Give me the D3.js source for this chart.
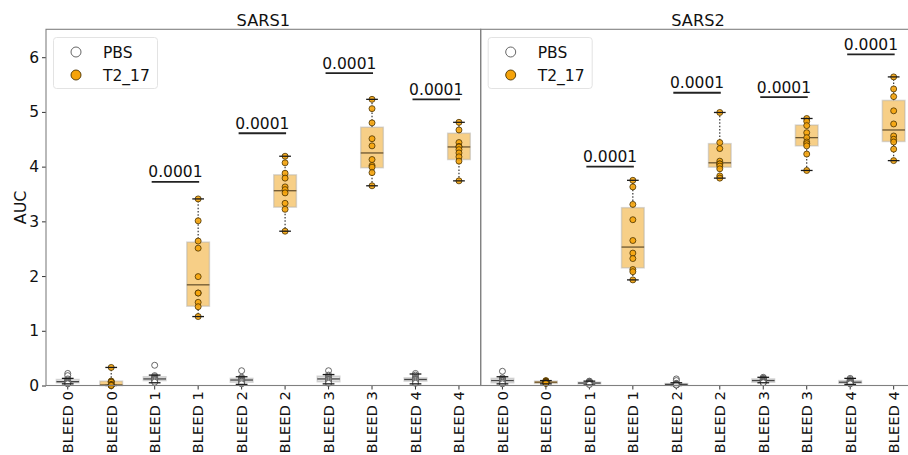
<!DOCTYPE html>
<html>
<head>
<meta charset="utf-8">
<script src="https://cdn.jsdelivr.net/npm/d3@7"></script>
<style>
  html, body { margin: 0; padding: 0; background: #fff; }
  svg { display: block; font-family: "DejaVu Sans", sans-serif; }
</style>
</head>
<body>
<svg id="chart" width="908" height="455"></svg>
<script>
// ---------------- data ----------------
const panels = ["SARS1", "SARS2"];
const bleeds = ["BLEED 0", "BLEED 1", "BLEED 2", "BLEED 3", "BLEED 4"];
const groups = ["PBS", "T2_17"];
const yTicks = [0, 1, 2, 3, 4, 5, 6];

// individual points per bleed
const sars1PBS = [
  [0.22, 0.18, 0.12, 0.10, 0.08, 0.07, 0.06, 0.05, 0.04, 0.03],
  [0.37, 0.18, 0.16, 0.14, 0.13, 0.12, 0.11, 0.10, 0.08, 0.06],
  [0.27, 0.15, 0.13, 0.11, 0.10, 0.09, 0.08, 0.07, 0.05, 0.03],
  [0.27, 0.19, 0.17, 0.14, 0.12, 0.11, 0.10, 0.08, 0.06, 0.04],
  [0.22, 0.19, 0.15, 0.13, 0.12, 0.11, 0.10, 0.08, 0.06, 0.04]
];
const sars1T2 = [
  [0.33, 0.08, 0.07, 0.06, 0.02, 0.01, 0.01, 0.00, 0.00, 0.00],
  [3.41, 3.01, 2.64, 2.51, 1.99, 1.69, 1.69, 1.52, 1.44, 1.26],
  [4.19, 4.07, 3.88, 3.79, 3.63, 3.58, 3.52, 3.33, 3.22, 2.82],
  [5.23, 5.06, 4.80, 4.51, 4.38, 4.13, 4.02, 3.99, 3.89, 3.65],
  [4.81, 4.67, 4.44, 4.37, 4.36, 4.31, 4.25, 4.18, 4.10, 3.74]
];
const sars2PBS = [
  [0.26, 0.14, 0.12, 0.10, 0.09, 0.09, 0.08, 0.06, 0.05, 0.03],
  [0.08, 0.07, 0.06, 0.05, 0.05, 0.04, 0.04, 0.03, 0.02, 0.02],
  [0.12, 0.09, 0.04, 0.03, 0.03, 0.02, 0.02, 0.01, 0.01, 0.01],
  [0.15, 0.13, 0.12, 0.11, 0.10, 0.09, 0.08, 0.07, 0.06, 0.05],
  [0.13, 0.11, 0.09, 0.08, 0.07, 0.06, 0.05, 0.05, 0.04, 0.03]
];
const sars2T2 = [
  [0.09, 0.08, 0.07, 0.07, 0.06, 0.06, 0.05, 0.05, 0.04, 0.04],
  [3.75, 3.63, 3.31, 3.03, 2.65, 2.42, 2.32, 2.12, 2.08, 1.93],
  [4.99, 4.44, 4.33, 4.10, 4.05, 4.05, 4.01, 3.96, 3.83, 3.79],
  [4.88, 4.83, 4.75, 4.62, 4.53, 4.45, 4.42, 4.38, 4.23, 3.93],
  [5.64, 5.42, 5.28, 5.02, 4.78, 4.56, 4.50, 4.45, 4.32, 4.11]
];

// box statistics per bleed: [whisker low, q1, median, q3, whisker high]
const sars1PBSBox = [
  [0.03, 0.05, 0.07, 0.11, 0.13],
  [0.05, 0.09, 0.12, 0.16, 0.19],
  [0.02, 0.06, 0.10, 0.13, 0.16],
  [0.03, 0.07, 0.12, 0.17, 0.20],
  [0.03, 0.08, 0.11, 0.14, 0.21]
];
const sars1T2Box = [
  [0.00, 0.00, 0.01, 0.08, 0.33],
  [1.26, 1.45, 1.84, 2.62, 3.41],
  [2.82, 3.26, 3.56, 3.85, 4.19],
  [3.65, 3.98, 4.25, 4.72, 5.23],
  [3.74, 4.13, 4.36, 4.61, 4.81]
];
const sars2PBSBox = [
  [0.03, 0.05, 0.09, 0.13, 0.16],
  [0.01, 0.03, 0.045, 0.06, 0.08],
  [0.00, 0.01, 0.02, 0.035, 0.05],
  [0.05, 0.06, 0.09, 0.12, 0.15],
  [0.02, 0.04, 0.06, 0.09, 0.13]
];
const sars2T2Box = [
  [0.03, 0.04, 0.06, 0.08, 0.09],
  [1.93, 2.15, 2.53, 3.25, 3.75],
  [3.79, 3.99, 4.07, 4.42, 4.99],
  [3.93, 4.38, 4.53, 4.76, 4.88],
  [4.11, 4.46, 4.67, 5.21, 5.64]
];

// significance annotations (bleed index, label, bar height)
const sars1Sig = [[1, "0.0001", 3.72], [2, "0.0001", 4.61], [3, "0.0001", 5.71], [4, "0.0001", 5.23]];
const sars2Sig = [[1, "0.0001", 4.00], [2, "0.0001", 5.35], [3, "0.0001", 5.27], [4, "0.0001", 6.05]];

const panelData = [
  { name: panels[0], pts: [sars1PBS, sars1T2], box: [sars1PBSBox, sars1T2Box], sig: sars1Sig },
  { name: panels[1], pts: [sars2PBS, sars2T2], box: [sars2PBSBox, sars2T2Box], sig: sars2Sig }
];

// ---------------- style ----------------
const fillPoint = ["#ffffff", "#f5a30a"];
const strokePoint = ["#444444", "#4a3200"];
const fillBox = ["#e3e3e3", "#f7cf87"];
const spineColor = "#808080";
const fs = 15.5;

// ---------------- layout ----------------
const svg = d3.select("#chart");
const yTop = 29.3, yBottom = 385.5;
const panelX = [[46, 480.7], [480.7, 915.4]];
const y = d3.scaleLinear().domain([0, 6.51]).range([yBottom, yTop]);

const keys = [];
bleeds.forEach((b, i) => groups.forEach(g => keys.push(g + "|" + i)));

panelData.forEach((pd, pi) => {
  const [x0, x1] = panelX[pi];
  const x = d3.scaleBand().domain(keys).range([x0, x1]).padding(0);
  const cx = (g, i) => x(groups[g] + "|" + i) + x.bandwidth() / 2;
  const step = x.bandwidth();
  const bw = step * 0.52, capW = step * 0.27;
  const g = svg.append("g");

  // x axis
  const xa = g.append("g").attr("transform", `translate(0,${yBottom})`)
    .call(d3.axisBottom(x).tickSize(4).tickSizeOuter(0).tickFormat(k => bleeds[+k.split("|")[1]]));
  xa.select(".domain").remove();
  xa.selectAll(".tick line").attr("stroke", "#333");
  xa.selectAll(".tick text")
    .attr("transform", "rotate(-90)")
    .attr("x", -5.5).attr("y", 0).attr("dy", "0.36em")
    .attr("text-anchor", "end")
    .attr("font-size", 14.8).attr("fill", "#111")
    .attr("font-family", "DejaVu Sans");

  if (pi === 0) {
    const ya = g.append("g").attr("transform", `translate(${x0},0)`)
      .call(d3.axisLeft(y).tickValues(yTicks).tickFormat(d3.format("d")).tickSize(4).tickPadding(3));
    ya.select(".domain").remove();
    ya.selectAll(".tick line").attr("stroke", "#333");
    ya.selectAll(".tick text").attr("font-size", fs).attr("fill", "#111").attr("font-family", "DejaVu Sans");
    g.append("text").attr("transform", `translate(20,${(yTop + yBottom) / 2}) rotate(-90)`)
      .attr("text-anchor", "middle").attr("dy", "0.36em")
      .attr("font-size", 16).attr("fill", "#111").text("AUC");
  }

  // title
  g.append("text").attr("x", (x0 + x1) / 2).attr("y", 26)
    .attr("text-anchor", "middle").attr("font-size", 16.2).attr("fill", "#111").text(pd.name);

  // boxes
  [0, 1].forEach(gi => {
    pd.box[gi].forEach((b, i) => {
      const c = cx(gi, i);
      const [wl, q1, md, q3, wh] = b;
      g.append("line").attr("x1", c).attr("x2", c).attr("y1", y(q3)).attr("y2", y(wh))
        .attr("stroke", "#222").attr("stroke-width", 1.1).attr("stroke-dasharray", "1.5,1.8");
      g.append("line").attr("x1", c).attr("x2", c).attr("y1", y(q1)).attr("y2", y(wl))
        .attr("stroke", "#222").attr("stroke-width", 1.1).attr("stroke-dasharray", "1.5,1.8");
      g.append("rect").attr("x", c - bw / 2).attr("width", bw)
        .attr("y", y(q3)).attr("height", Math.max(1.5, y(q1) - y(q3)))
        .attr("fill", fillBox[gi]).attr("stroke", "rgba(170,170,170,0.45)").attr("stroke-width", 1.5);
      g.append("line").attr("x1", c - bw / 2).attr("x2", c + bw / 2).attr("y1", y(md)).attr("y2", y(md))
        .attr("stroke", gi ? "#6b5530" : "#444").attr("stroke-width", 1.3);
    });
  });

  // points
  [0, 1].forEach(gi => {
    pd.pts[gi].forEach((arr, i) => {
      const c = cx(gi, i);
      g.selectAll(null).data(arr).enter().append("circle")
        .attr("cx", c).attr("cy", d => y(d)).attr("r", 3.0)
        .attr("fill", fillPoint[gi]).attr("fill-opacity", 0.9)
        .attr("stroke", strokePoint[gi]).attr("stroke-width", 0.8);
    });
  });

  // caps
  [0, 1].forEach(gi => {
    pd.box[gi].forEach((b, i) => {
      const c = cx(gi, i);
      [b[0], b[4]].forEach(v => {
        g.append("line").attr("x1", c - capW / 2).attr("x2", c + capW / 2).attr("y1", y(v)).attr("y2", y(v))
          .attr("stroke", "#1a1a1a").attr("stroke-width", 1.3);
      });
    });
  });

  // significance annotations
  pd.sig.forEach(([i, label, h]) => {
    const xa1 = cx(0, i) - 3, xa2 = cx(1, i) + 1;
    g.append("line").attr("x1", xa1).attr("x2", xa2).attr("y1", y(h)).attr("y2", y(h))
      .attr("stroke", "#222").attr("stroke-width", 1.8);
    g.append("text").attr("x", (xa1 + xa2) / 2).attr("y", y(h) - 4.5)
      .attr("text-anchor", "middle").attr("font-size", fs).attr("fill", "#111").text(label);
  });

  // legend
  const lg = g.append("g").attr("transform", `translate(${x0 + 7.5},37.5)`);
  lg.append("rect").attr("width", 104).attr("height", 51).attr("rx", 3)
    .attr("fill", "rgba(255,255,255,0.85)").attr("stroke", "#e3e3e3").attr("stroke-width", 1);
  groups.forEach((name, k) => {
    lg.append("circle").attr("cx", 22.5).attr("cy", 14.5 + k * 23).attr("r", 5)
      .attr("fill", fillPoint[k]).attr("stroke", k ? "#4a3200" : "#555").attr("stroke-width", 0.9);
    lg.append("text").attr("x", 49.5).attr("y", 14.5 + k * 23).attr("dy", "0.36em")
      .attr("font-size", fs).attr("fill", "#111").text(name);
  });

  // spines
  g.append("rect").attr("x", x0).attr("y", yTop).attr("width", x1 - x0).attr("height", yBottom - yTop)
    .attr("fill", "none").attr("stroke", spineColor).attr("stroke-width", 1.1);
});
</script>
</body>
</html>
